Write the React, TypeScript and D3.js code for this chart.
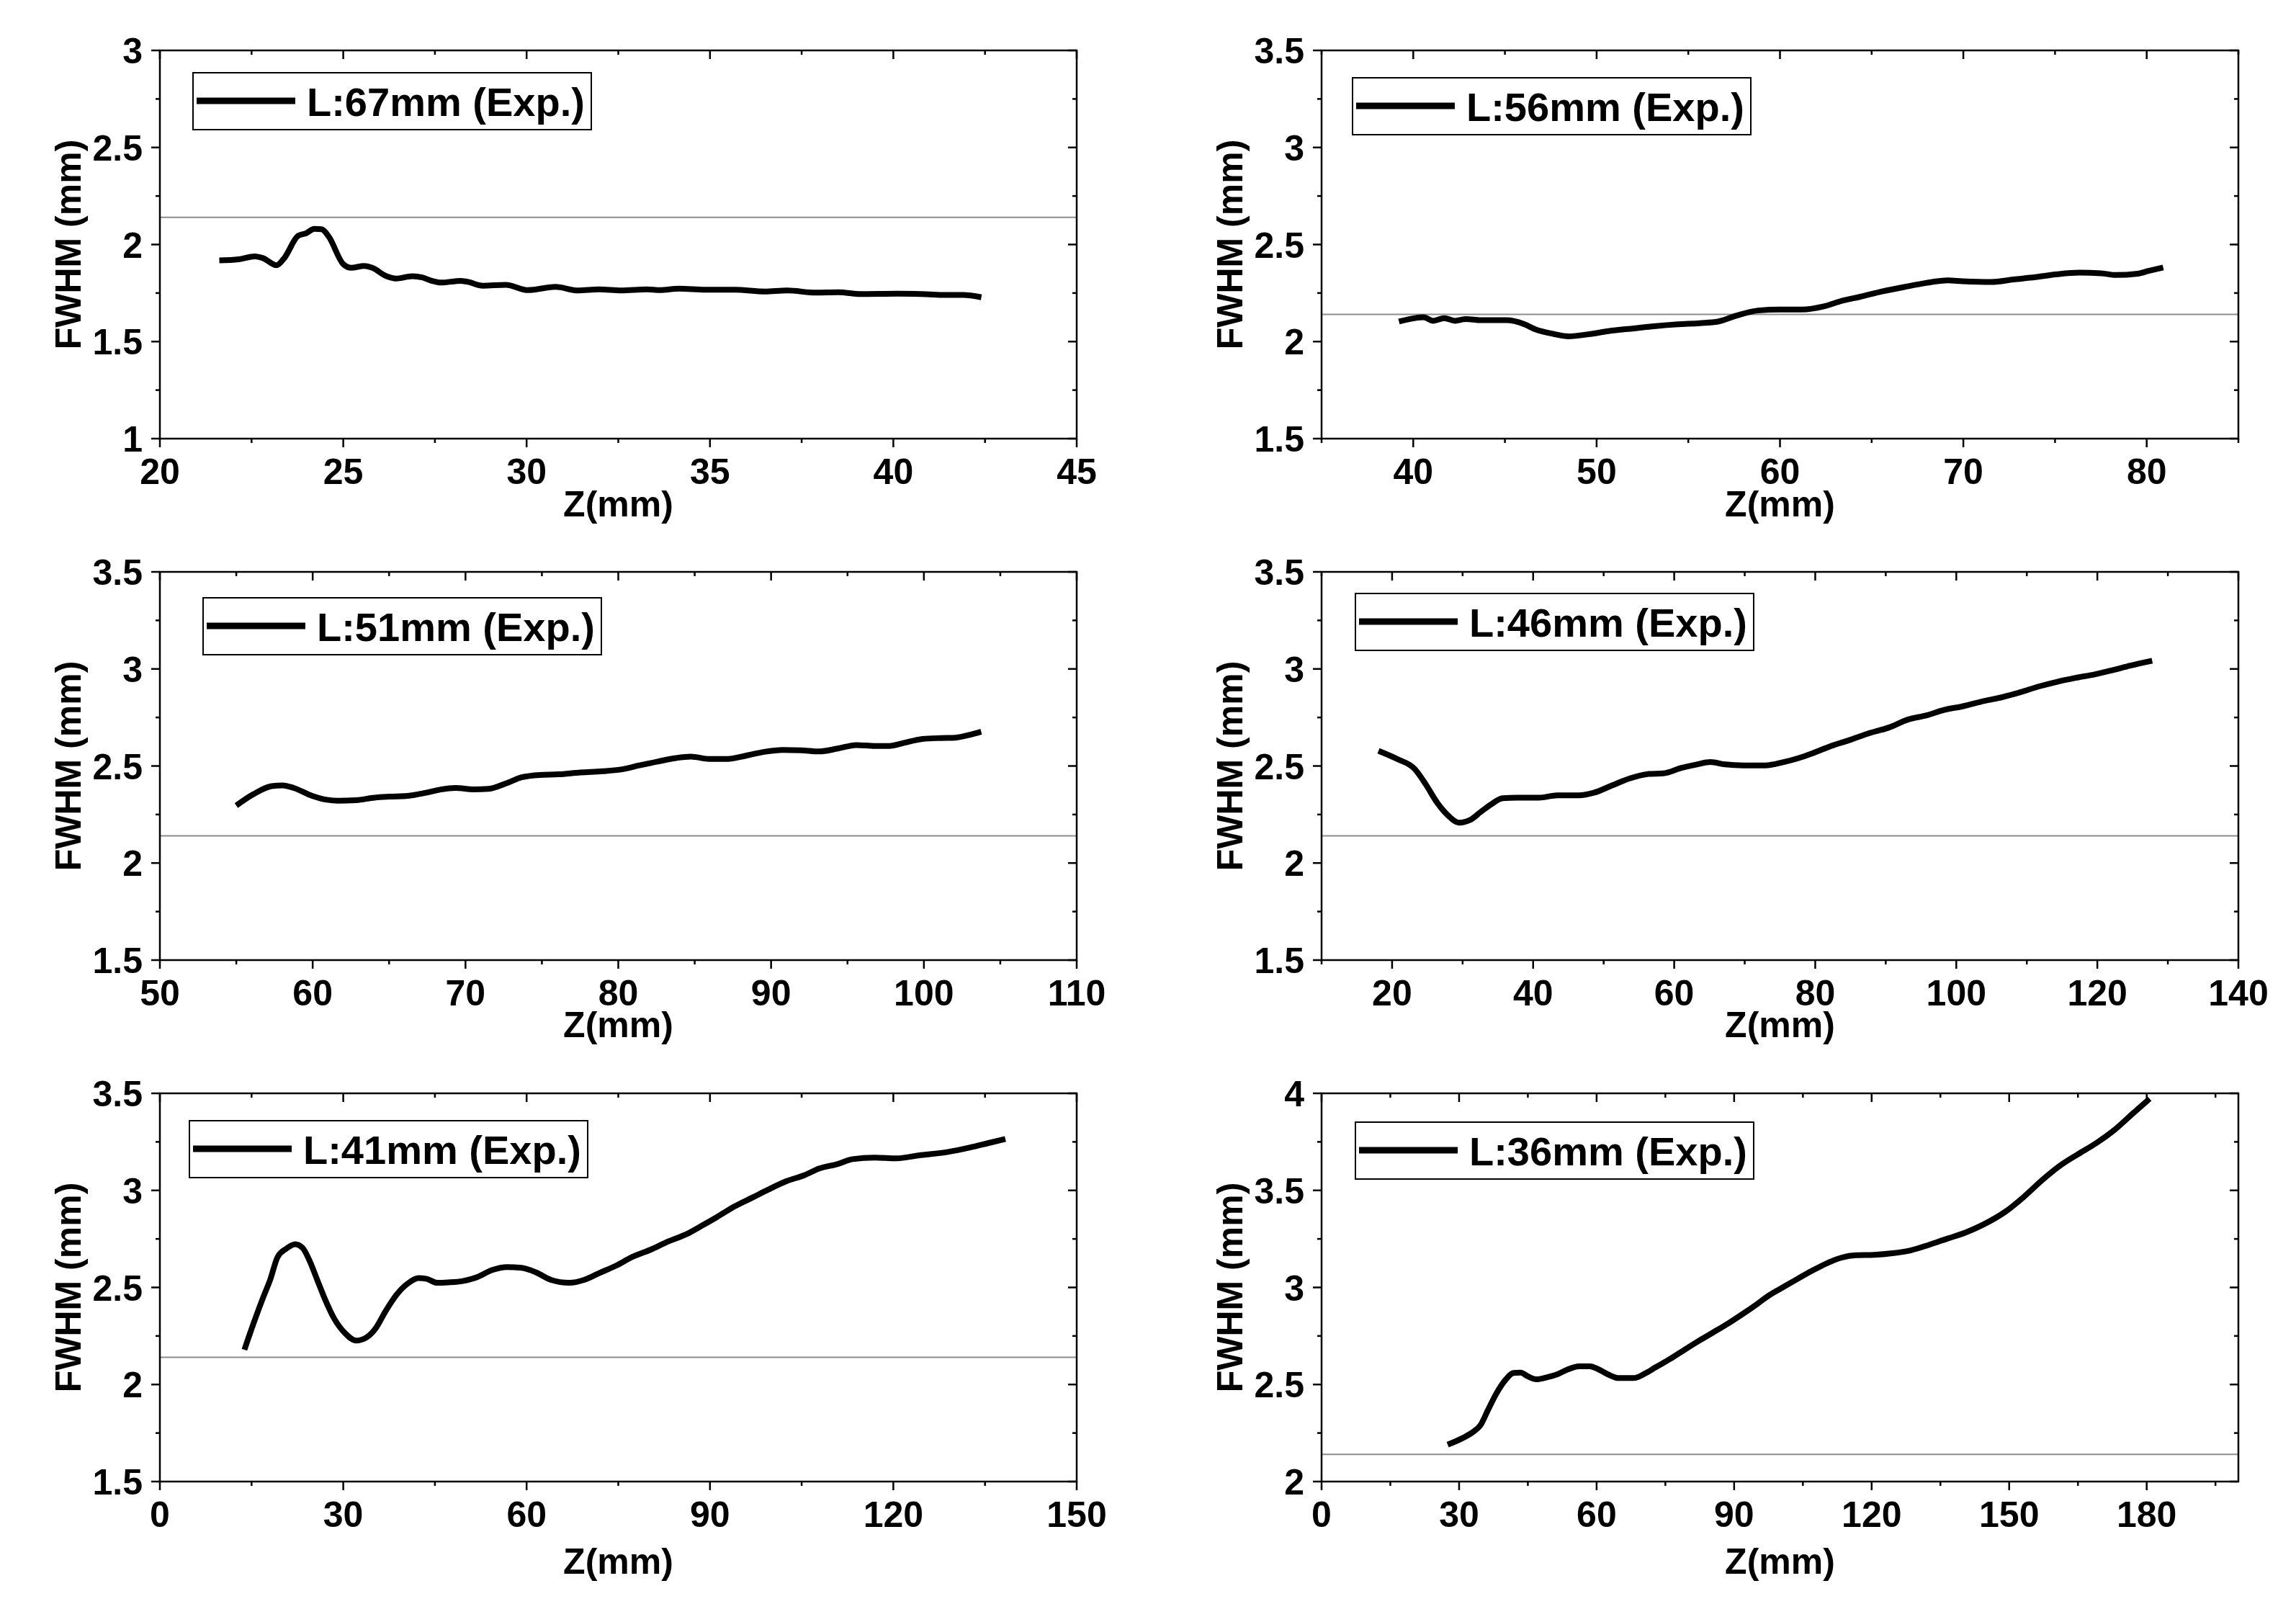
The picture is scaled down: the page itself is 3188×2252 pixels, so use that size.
import React from "react";
import * as d3 from "d3";

// ---------- data ----------
const p1Z = [21.62, 22.15, 22.59, 22.81, 23.18, 23.38, 23.77, 23.99, 24.21, 24.41, 24.6, 25.0, 25.22, 25.57, 25.79, 26.18, 26.44, 26.88, 27.15, 27.41, 27.67, 28.2, 28.37, 28.81, 29.43, 30.04, 30.79, 31.4, 31.97, 32.58, 33.28, 33.63, 34.16, 34.88, 35.68, 36.5, 37.1, 37.9, 38.5, 39.1, 40.1, 40.9, 41.4, 41.9, 42.4];
const p1F = [1.918, 1.924, 1.939, 1.93, 1.893, 1.927, 2.045, 2.058, 2.081, 2.079, 2.042, 1.899, 1.88, 1.89, 1.88, 1.837, 1.825, 1.837, 1.831, 1.813, 1.804, 1.813, 1.809, 1.788, 1.792, 1.765, 1.782, 1.763, 1.769, 1.763, 1.769, 1.765, 1.773, 1.767, 1.767, 1.758, 1.763, 1.752, 1.754, 1.745, 1.747, 1.744, 1.74, 1.74, 1.728];

const p2Z = [39.22, 40.1, 40.57, 41.09, 41.69, 42.28, 42.88, 43.68, 45.07, 46.07, 46.66, 47.66, 48.46, 49.65, 50.65, 52.04, 53.23, 54.43, 55.62, 56.62, 57.61, 58.8, 60.0, 61.19, 62.39, 63.38, 64.38, 65.57, 66.77, 67.96, 69.16, 69.95, 71.54, 72.74, 73.93, 75.13, 76.32, 77.52, 78.31, 79.51, 80.1, 80.9];
const p2F = [2.103, 2.121, 2.125, 2.107, 2.121, 2.107, 2.116, 2.11, 2.11, 2.089, 2.063, 2.039, 2.027, 2.039, 2.054, 2.068, 2.08, 2.089, 2.095, 2.103, 2.133, 2.16, 2.165, 2.165, 2.181, 2.21, 2.231, 2.258, 2.281, 2.302, 2.315, 2.311, 2.307, 2.32, 2.332, 2.347, 2.355, 2.352, 2.343, 2.35, 2.364, 2.382];

const p3Z = [55.0, 56.11, 57.31, 58.04, 58.76, 59.96, 60.92, 61.65, 62.85, 64.05, 65.01, 66.22, 67.42, 68.38, 69.35, 70.55, 71.51, 72.71, 73.68, 74.88, 76.08, 77.53, 78.97, 80.17, 81.38, 82.58, 83.78, 84.75, 85.95, 87.15, 88.35, 89.55, 90.76, 91.96, 93.16, 94.37, 95.57, 96.78, 97.74, 98.7, 99.9, 101.1, 102.07, 103.03, 103.75];
const p3F = [2.296, 2.354, 2.396, 2.4, 2.387, 2.346, 2.326, 2.321, 2.324, 2.337, 2.342, 2.346, 2.362, 2.379, 2.387, 2.379, 2.382, 2.412, 2.442, 2.454, 2.457, 2.467, 2.473, 2.482, 2.503, 2.523, 2.541, 2.548, 2.536, 2.536, 2.553, 2.573, 2.583, 2.581, 2.575, 2.59, 2.608, 2.603, 2.603, 2.619, 2.639, 2.644, 2.646, 2.661, 2.677];

const p4Z = [18.07, 20.66, 23.25, 24.8, 26.35, 27.91, 29.46, 31.01, 32.56, 34.11, 35.67, 37.74, 40.84, 43.43, 46.53, 48.6, 51.19, 53.78, 56.37, 58.44, 61.03, 63.1, 65.16, 67.23, 69.82, 72.93, 75.51, 77.58, 79.65, 82.24, 84.83, 87.41, 90.52, 93.11, 95.7, 98.28, 100.87, 103.98, 106.56, 109.15, 111.74, 114.33, 116.92, 119.51, 122.1, 124.68, 127.78];
const p4F = [2.578, 2.537, 2.483, 2.404, 2.313, 2.246, 2.208, 2.221, 2.263, 2.304, 2.334, 2.337, 2.337, 2.349, 2.349, 2.362, 2.4, 2.437, 2.459, 2.462, 2.49, 2.507, 2.52, 2.508, 2.503, 2.503, 2.52, 2.54, 2.566, 2.603, 2.633, 2.666, 2.699, 2.739, 2.76, 2.789, 2.807, 2.835, 2.855, 2.881, 2.91, 2.934, 2.954, 2.971, 2.993, 3.017, 3.042];

const p5Z = [13.83, 15.28, 16.84, 18.04, 19.25, 20.69, 22.13, 23.34, 24.54, 25.74, 26.95, 28.51, 30.31, 32.12, 33.92, 35.36, 36.93, 38.73, 40.54, 42.34, 43.55, 45.35, 47.16, 49.56, 51.97, 54.37, 56.78, 59.19, 61.59, 63.99, 67.0, 69.41, 71.82, 74.82, 77.23, 80.23, 83.24, 86.25, 88.66, 91.06, 94.07, 97.08, 99.48, 102.49, 105.5, 107.9, 110.91, 113.32, 116.92, 120.53, 124.14, 128.95, 132.56, 135.57, 138.33];
const p5F = [2.179, 2.311, 2.444, 2.539, 2.656, 2.7, 2.723, 2.704, 2.634, 2.539, 2.444, 2.34, 2.264, 2.226, 2.245, 2.292, 2.378, 2.463, 2.52, 2.548, 2.545, 2.524, 2.526, 2.533, 2.554, 2.59, 2.605, 2.601, 2.577, 2.539, 2.524, 2.539, 2.573, 2.615, 2.656, 2.694, 2.738, 2.776, 2.818, 2.861, 2.918, 2.965, 3.003, 3.047, 3.079, 3.113, 3.136, 3.161, 3.169, 3.165, 3.18, 3.198, 3.221, 3.244, 3.265];

const p6Z = [27.51, 30.69, 33.07, 34.66, 36.25, 38.16, 40.23, 41.82, 43.41, 45.0, 46.91, 48.97, 51.36, 53.74, 56.13, 58.51, 60.42, 62.49, 64.87, 68.06, 70.44, 72.82, 76.0, 79.18, 82.37, 85.55, 88.73, 91.91, 95.09, 97.47, 100.65, 103.83, 107.01, 110.19, 113.37, 116.55, 120.53, 124.5, 128.48, 132.45, 136.43, 140.4, 144.38, 149.15, 153.12, 157.1, 161.07, 165.05, 169.02, 173.0, 176.97, 180.63];
const p6F = [2.19, 2.223, 2.256, 2.29, 2.366, 2.455, 2.527, 2.559, 2.561, 2.542, 2.527, 2.536, 2.552, 2.578, 2.594, 2.594, 2.578, 2.552, 2.533, 2.533, 2.555, 2.588, 2.631, 2.679, 2.726, 2.77, 2.815, 2.864, 2.916, 2.957, 3.001, 3.044, 3.086, 3.124, 3.153, 3.166, 3.168, 3.176, 3.191, 3.219, 3.251, 3.282, 3.324, 3.39, 3.465, 3.551, 3.627, 3.687, 3.744, 3.812, 3.896, 3.972];

const legendLabels = ["L:67mm (Exp.)", "L:56mm (Exp.)", "L:51mm (Exp.)", "L:46mm (Exp.)", "L:41mm (Exp.)", "L:36mm (Exp.)"];
const xDomains: [number, number][] = [[20, 45], [35, 85], [50, 110], [10, 140], [0, 150], [0, 200]];
const yDomains: [number, number][] = [[1, 3], [1.5, 3.5], [1.5, 3.5], [1.5, 3.5], [1.5, 3.5], [2, 4]];
const xMajorTicks = [
  [20, 25, 30, 35, 40, 45],
  [40, 50, 60, 70, 80],
  [50, 60, 70, 80, 90, 100, 110],
  [20, 40, 60, 80, 100, 120, 140],
  [0, 30, 60, 90, 120, 150],
  [0, 30, 60, 90, 120, 150, 180],
];
const xMinorTicks = [
  [22.5, 27.5, 32.5, 37.5, 42.5],
  [35, 45, 55, 65, 75, 85],
  [55, 65, 75, 85, 95, 105],
  [10, 30, 50, 70, 90, 110, 130],
  [15, 45, 75, 105, 135],
  [15, 45, 75, 105, 135, 165, 195],
];
const yMajorTicks = [
  [1, 1.5, 2, 2.5, 3],
  [1.5, 2, 2.5, 3, 3.5],
  [1.5, 2, 2.5, 3, 3.5],
  [1.5, 2, 2.5, 3, 3.5],
  [1.5, 2, 2.5, 3, 3.5],
  [2, 2.5, 3, 3.5, 4],
];
const yMinorTicks = [
  [1.25, 1.75, 2.25, 2.75],
  [1.75, 2.25, 2.75, 3.25],
  [1.75, 2.25, 2.75, 3.25],
  [1.75, 2.25, 2.75, 3.25],
  [1.75, 2.25, 2.75, 3.25],
  [2.25, 2.75, 3.25, 3.75],
];
const referenceLevel = 2.14;
const xTitle = "Z(mm)";
const yTitle = "FWHM (mm)";

const seriesZ = [p1Z, p2Z, p3Z, p4Z, p5Z, p6Z];
const seriesF = [p1F, p2F, p3F, p4F, p5F, p6F];

// ---------- layout ----------
const W = 3188;
const H = 2252;
const colLeft = [222, 1835];
const colWidth = 1273;
const rowTop = [70, 794, 1518];
const plotH = 539;
const xTitleOffset = [108, 107, 128];
const legendOffsets: [number, number][] = [[46, 31], [43, 38], [60, 36], [47, 30], [41, 38], [47, 40]];
const FONT = "'Liberation Sans', Arial, Helvetica, sans-serif";

function fmt(v: number) {
  return String(v);
}

function Panel({ idx }: { idx: number }) {
  const col = idx % 2;
  const row = Math.floor(idx / 2);
  const left = colLeft[col];
  const top = rowTop[row];
  const right = left + colWidth;
  const bottom = top + plotH;
  const x = d3.scaleLinear().domain(xDomains[idx]).range([left, right]);
  const y = d3.scaleLinear().domain(yDomains[idx]).range([bottom, top]);
  const pts = d3.zip(seriesZ[idx], seriesF[idx]) as [number, number][];
  const line = d3
    .line<[number, number]>()
    .x((d) => x(d[0]))
    .y((d) => y(d[1]))
    .curve(d3.curveMonotoneX);
  const [lx, ly] = legendOffsets[idx];
  const bx = left + lx;
  const by = top + ly;
  const major = 12;
  const minor = 6;
  const sw = 2.5;
  return (
    <g>
      {/* reference line */}
      <line x1={left} x2={right} y1={y(referenceLevel)} y2={y(referenceLevel)} stroke="#8c8c8c" strokeWidth={2} />
      {/* data */}
      <path d={line(pts) || ""} fill="none" stroke="#000" strokeWidth={8} strokeLinejoin="round" />
      {/* frame */}
      <rect x={left} y={top} width={colWidth} height={plotH} fill="none" stroke="#000" strokeWidth={sw} />
      {/* x ticks */}
      {xMajorTicks[idx].map((t) => (
        <g key={"xM" + t}>
          <line x1={x(t)} x2={x(t)} y1={bottom} y2={bottom + major} stroke="#000" strokeWidth={sw} />
          <line x1={x(t)} x2={x(t)} y1={top} y2={top + major} stroke="#000" strokeWidth={sw} />
          <text x={x(t)} y={bottom + 63} textAnchor="middle" fontFamily={FONT} fontWeight="bold" fontSize={50}>
            {fmt(t)}
          </text>
        </g>
      ))}
      {xMinorTicks[idx].map((t) => (
        <g key={"xm" + t}>
          <line x1={x(t)} x2={x(t)} y1={bottom} y2={bottom + minor} stroke="#000" strokeWidth={sw} />
          <line x1={x(t)} x2={x(t)} y1={top} y2={top + minor} stroke="#000" strokeWidth={sw} />
        </g>
      ))}
      {/* y ticks */}
      {yMajorTicks[idx].map((t) => (
        <g key={"yM" + t}>
          <line x1={left - major} x2={left} y1={y(t)} y2={y(t)} stroke="#000" strokeWidth={sw} />
          <line x1={right - major} x2={right} y1={y(t)} y2={y(t)} stroke="#000" strokeWidth={sw} />
          <text x={left - 24} y={y(t) + 18} textAnchor="end" fontFamily={FONT} fontWeight="bold" fontSize={50}>
            {fmt(t)}
          </text>
        </g>
      ))}
      {yMinorTicks[idx].map((t) => (
        <g key={"ym" + t}>
          <line x1={left - minor} x2={left} y1={y(t)} y2={y(t)} stroke="#000" strokeWidth={sw} />
          <line x1={right - minor} x2={right} y1={y(t)} y2={y(t)} stroke="#000" strokeWidth={sw} />
        </g>
      ))}
      {/* titles */}
      <text x={(left + right) / 2} y={bottom + xTitleOffset[row]} textAnchor="middle" fontFamily={FONT} fontWeight="bold" fontSize={50}>
        {xTitle}
      </text>
      <text
        transform={`translate(${left - 110},${(top + bottom) / 2}) rotate(-90)`}
        textAnchor="middle"
        fontFamily={FONT}
        fontWeight="bold"
        fontSize={50}
      >
        {yTitle}
      </text>
      {/* legend */}
      <rect x={bx} y={by} width={553} height={79} fill="#fff" stroke="#000" strokeWidth={2} />
      <line x1={bx + 5} x2={bx + 142} y1={by + 39} y2={by + 39} stroke="#000" strokeWidth={9} />
      <text x={bx + 158} y={by + 60} fontFamily={FONT} fontWeight="bold" fontSize={56}>
        {legendLabels[idx]}
      </text>
    </g>
  );
}

export default function App() {
  return (
    <svg
      width={W}
      height={H}
      viewBox={`0 0 ${W} ${H}`}
      style={{ position: "absolute", left: 0, top: 0, background: "#fff" }}
    >
      <rect x={0} y={0} width={W} height={H} fill="#fff" />
      {[0, 1, 2, 3, 4, 5].map((i) => (
        <Panel key={i} idx={i} />
      ))}
    </svg>
  );
}
